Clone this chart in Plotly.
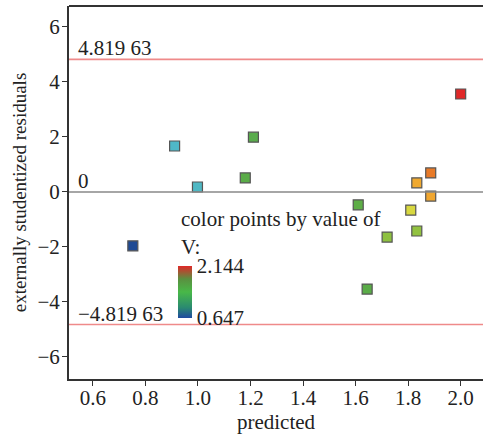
import plotly.graph_objects as go

predicted = [0.752, 0.911, 0.998, 1.180, 1.211, 1.610, 1.644, 1.720, 1.810, 1.833, 1.833, 1.886, 1.886, 2.000]
residuals = [-1.96, 1.67, 0.18, 0.51, 1.99, -0.47, -3.53, -1.64, -0.66, 0.33, -1.42, 0.69, -0.15, 3.56]
v_values = [0.647, 1.02, 1.03, 1.32, 1.31, 1.34, 1.32, 1.55, 1.725, 1.87, 1.56, 1.99, 1.88, 2.144]
limit = 4.81963
v_min, v_max = 0.647, 2.144

point_scale = [[0.0, '#1f4a94'], [0.25, '#4fb8c8'], [0.45, '#5aac48'], [0.6, '#8cc040'],
               [0.72, '#d8d840'], [0.82, '#f0a830'], [0.9, '#e87828'], [1.0, '#e02828']]
bar_scale = [[0.0, '#1f4aa0'], [0.2, '#2a8a70'], [0.5, '#48b848'], [0.75, '#5a9040'], [1.0, '#e02828']]

font = 'Liberation Serif, Times New Roman, serif'
fs = 21
fig = go.Figure()
fig.add_trace(go.Scatter(
    x=predicted, y=residuals, mode='markers',
    marker=dict(symbol='square', size=10, color=v_values, cmin=v_min, cmax=v_max,
                colorscale=point_scale, line=dict(color='#555555', width=1.2)),
    showlegend=False, hoverinfo='x+y'))
# colorbar legend
fig.add_trace(go.Scatter(
    x=[None], y=[None], mode='markers', showlegend=False,
    marker=dict(color=[v_min, v_max], cmin=v_min, cmax=v_max, colorscale=bar_scale, showscale=True,
                colorbar=dict(x=0.263, xanchor='left', y=0.233, yanchor='middle',
                              len=52, lenmode='pixels', thickness=14, thicknessmode='pixels',
                              xpad=0, ypad=0, outlinewidth=0, ticks='',
                              tickvals=[v_min, v_max], ticktext=['0.647', '2.144'],
                              tickfont=dict(family=font, size=fs, color='#222222')))))

for yv, col in [(limit, '#ef8a8a'), (-limit, '#ef8a8a'), (0, '#888888')]:
    fig.add_shape(type='line', xref='paper', x0=0, x1=1, yref='y', y0=yv, y1=yv,
                  line=dict(color=col, width=1.6))
fig.add_shape(type='line', xref='paper', x0=0, x1=1, yref='paper', y0=1, y1=1,
              line=dict(color='#333333', width=2))

for yv, txt in [(limit, '4.819 63'), (0, '0'), (-limit, '−4.819 63')]:
    fig.add_annotation(x=0.018, xref='paper', y=yv, yref='y', text=txt, showarrow=False,
                       xanchor='left', yanchor='bottom', yshift=-3,
                       font=dict(family=font, size=fs, color='#222222'))
fig.add_annotation(x=0.265, xref='paper', y=-0.98, yref='y', text='color points by value of',
                   showarrow=False, xanchor='left', yanchor='middle',
                   font=dict(family=font, size=fs, color='#222222'))
fig.add_annotation(x=0.265, xref='paper', y=-2.0, yref='y', text='V:',
                   showarrow=False, xanchor='left', yanchor='middle',
                   font=dict(family=font, size=fs, color='#222222'))

axis_common = dict(showgrid=False, zeroline=False, showline=True, linecolor='#333333', linewidth=2,
                   ticks='outside', ticklen=5, tickwidth=1.2, tickcolor='#333333',
                   tickfont=dict(family=font, size=fs, color='#222222'))
fig.update_layout(
    width=483, height=436, margin=dict(l=69, r=0, t=6, b=57),
    plot_bgcolor='white', paper_bgcolor='white',
    xaxis=dict(range=[0.509, 2.085], tickvals=[0.6, 0.8, 1.0, 1.2, 1.4, 1.6, 1.8, 2.0],
               ticktext=['0.6', '0.8', '1.0', '1.2', '1.4', '1.6', '1.8', '2.0'],
               ticklabelstandoff=-6,
               title=dict(text='predicted', font=dict(family=font, size=fs, color='#222222'), standoff=4),
               **axis_common),
    yaxis=dict(range=[-6.8, 6.76], tickvals=[-6, -4, -2, 0, 2, 4, 6],
               ticktext=['−6', '−4', '−2', '0', '2', '4', '6'],
               ticklabelstandoff=-2,
               title=dict(text='externally studentized residuals',
                          font=dict(family=font, size=19, color='#222222'), standoff=6),
               **axis_common),
)
fig.write_html('out.html')
